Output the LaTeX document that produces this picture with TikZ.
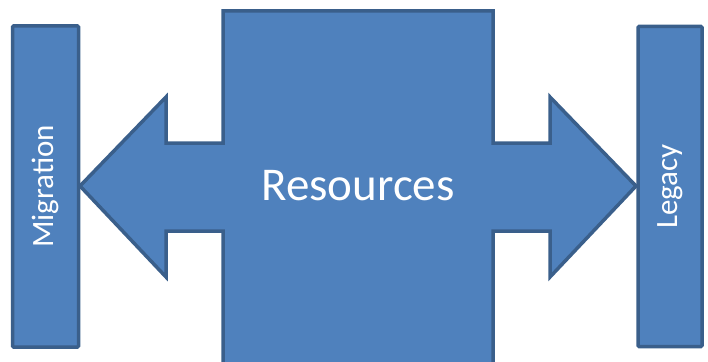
\documentclass[tikz,border=0pt]{standalone}
\usepackage{fontspec}
\setmainfont{Carlito}
\usetikzlibrary{positioning}
\definecolor{boxFill}{HTML}{4F81BD}
\definecolor{boxLine}{HTML}{3A5F8B}
\tikzset{
	%Diagram style
	sidebar/.style={
		draw=boxLine,
		fill=boxFill,
		line width=3.5pt,
		rectangle,
		rounded corners=1pt,
		rotate=90,
		text=white,
		align=center,
		font=\fontsize{31}{36}\selectfont,
	},
	bigarrow/.style={
		draw=boxLine,
		fill=boxFill,
		line width=3.5pt,
		line join=miter,
	},
	centerText/.style={
		text=white,
		font=\fontsize{47}{54}\selectfont,
	}
}
\begin{document}
\begin{tikzpicture}[x=1pt, y=-1pt]
	\useasboundingbox (0,0) rectangle (708,361);

	\draw[bigarrow] (223,11) -- (493,11) -- (493,143) -- (550,143) -- (550,97)
		-- (636,186) -- (550,277) -- (550,231) -- (493,231) -- (493,366)
		-- (223,366) -- (223,231) -- (166,231) -- (166,277) -- (80,186)
		-- (166,97) -- (166,143) -- (223,143) -- cycle;

	\node (migration) at (45.5,186.5) [sidebar, minimum width=321pt, minimum height=66pt] {Migration};
	\node (legacy) at (670,186.5) [sidebar, minimum width=320pt, minimum height=64pt] {Legacy};

	\node (resources) at (358,186) [centerText] {Resources};
\end{tikzpicture}
\end{document}
